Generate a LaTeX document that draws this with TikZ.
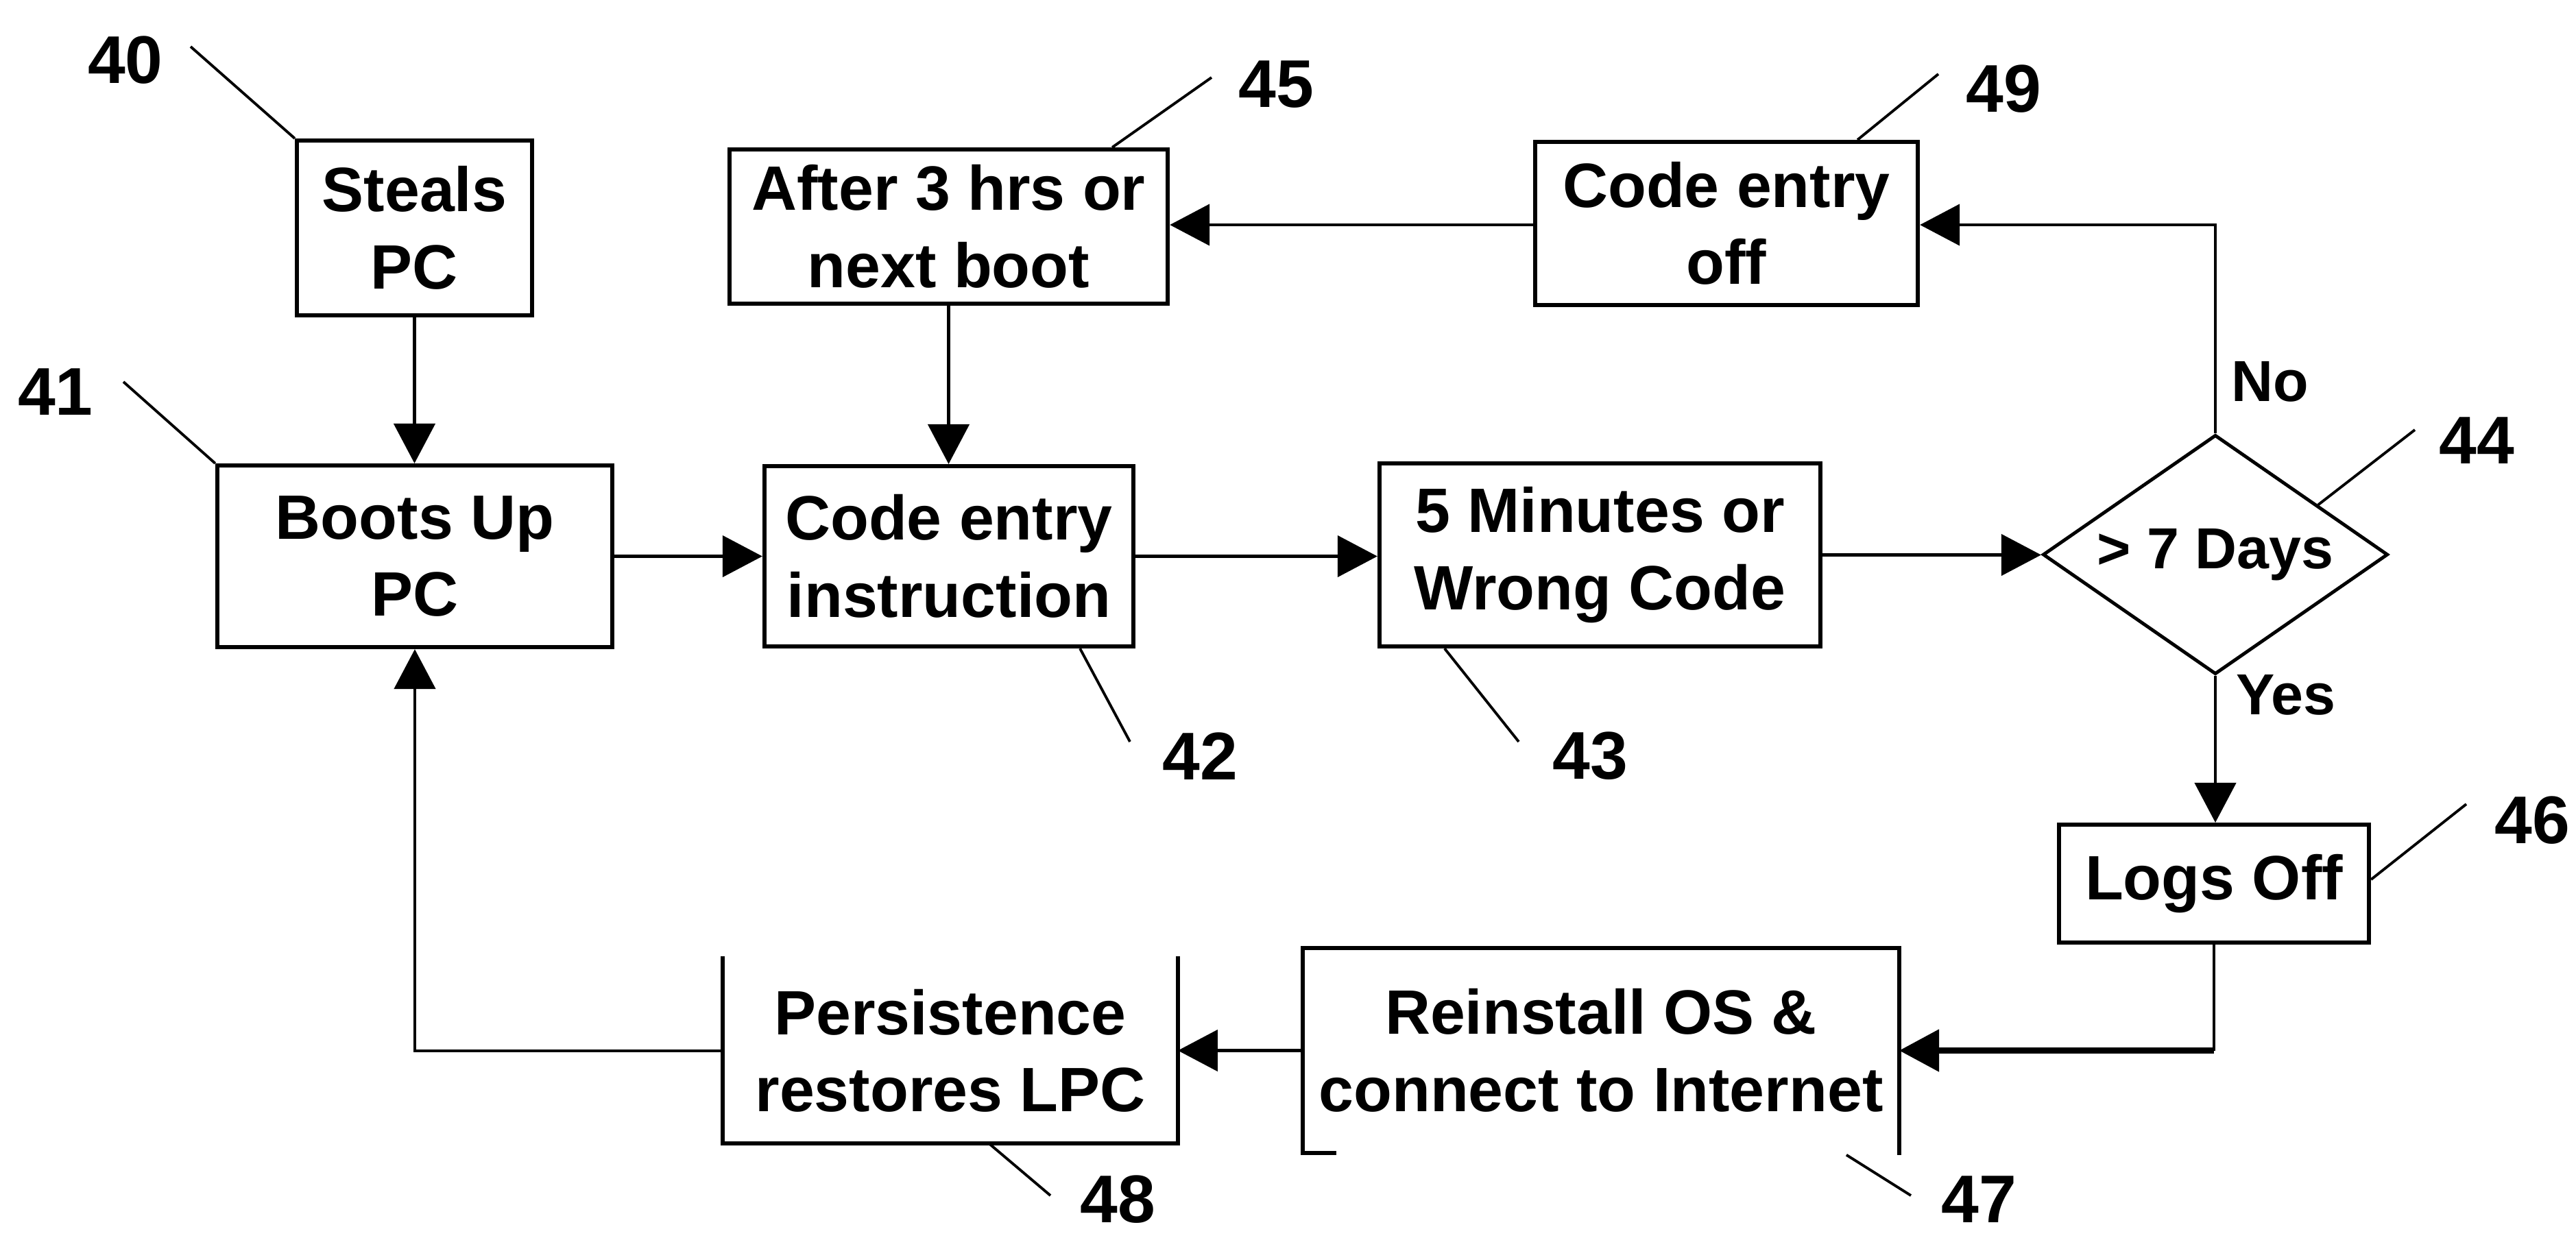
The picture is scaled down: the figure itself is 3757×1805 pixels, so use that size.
\documentclass[tikz,border=0pt]{standalone}
\usepackage{fontspec}
\setmainfont{Liberation Sans}
\usetikzlibrary{arrows.meta,shapes.geometric,calc}
\newcommand\bxfont{\fontsize{26}{32}\selectfont\bfseries}
\newcommand\rnfont{\fontsize{28}{32}\selectfont\bfseries}
\newcommand\brfont{\fontsize{24}{28}\selectfont\bfseries}
\begin{document}
\begin{tikzpicture}[x=0.01cm,y=-0.01cm,
  box/.style={draw,line width=1.7pt,inner sep=0pt,align=center,font=\bxfont},
  bare/.style={inner sep=0pt,align=center,font=\bxfont},
  edgeline/.style={line width=1.7pt,line cap=rect},
  flow/.style={line width=1.3pt,-{Triangle[length=0.58cm,width=0.6cm]}},
  plain/.style={line width=1.3pt},
  leader/.style={line width=1.1pt},
  refnum/.style={inner sep=0pt,font=\rnfont},
  branch/.style={inner sep=0pt,font=\brfont}]
\useasboundingbox (0,0) rectangle (3757,1805);
\fill[white] (0,0) rectangle (3757,1805);

% boxes
\node[box,minimum width=3.43cm,minimum height=2.55cm] (steals) at (604.5,332.5) {Steals\\PC};
\node[box,minimum width=6.39cm,minimum height=2.25cm] (after) at (1383.5,330.5) {After 3 hrs or\\next boot};
\node[box,minimum width=5.58cm,minimum height=2.38cm] (off) at (2518,326) {Code entry\\off};
\node[box,minimum width=5.76cm,minimum height=2.65cm] (boots) at (605,811.5) {Boots Up\\PC};
\node[box,minimum width=5.38cm,minimum height=2.63cm] (instr) at (1384,811.5) {Code entry\\instruction};
\node[box,minimum width=6.43cm,minimum height=2.67cm] (five) at (2333.5,809.5) {5 Minutes or\\Wrong Code};
\node[draw,diamond,aspect=1.44,line width=1.4pt,inner sep=0pt,minimum width=5.03cm,minimum height=3.49cm,font=\brfont] (days) at (3231,809) {> 7 Days};
\node[box,minimum width=4.52cm,minimum height=1.72cm] (logs) at (3229,1289) {Logs Off};
\node[bare,minimum width=8.68cm,minimum height=2.97cm] (reinstall) at (2335,1532.5) {Reinstall OS \&\\connect to Internet};
\node[bare,minimum width=6.62cm,minimum height=2.68cm] (persist) at (1386,1533) {Persistence\\restores LPC};

% partly drawn outlines
\draw[edgeline] (reinstall.south west) -- (reinstall.north west) -- (reinstall.north east) -- (reinstall.south east);
\draw[edgeline] (reinstall.south west) -- ++(46,0);
\draw[edgeline] (persist.north west) -- (persist.south west) -- (persist.south east) -- (persist.north east);

% connectors
\draw[flow] (steals.south) -- (steals.south |- boots.north);
\draw[flow] (after.south) -- (after.south |- instr.north);
\draw[flow] (boots.east) -- (boots.east -| instr.west);
\draw[flow] (instr.east) -- (instr.east -| five.west);
\draw[flow] (five.east) -- (five.east -| days.west);
\draw[flow] (days.north) |- ([yshift=-0.02cm]off.east);
\draw[flow] ([yshift=-0.02cm]off.west) -- ([yshift=-0.02cm]off.west -| after.east);
\draw[flow] (days.south) -- (days.south |- logs.north);
\draw[plain] (logs.south) -- (logs.south |- reinstall.east) coordinate (lgcorner);
\draw[flow,line width=2.4pt] (lgcorner) -- (reinstall.east);
\draw[flow] (reinstall.west) -- (reinstall.west -| persist.east);
\draw[flow] (persist.west) -| (boots.south);

% branch labels
\node[branch] (no) at (3311,557) {No};
\node[branch] (yes) at (3334,1014) {Yes};

% reference numerals
\node[refnum] (n40) at (183,88) {40};
\node[refnum] (n41) at (81,572) {41};
\node[refnum] (n45) at (1861,123) {45};
\node[refnum] (n49) at (2922,130) {49};
\node[refnum] (n44) at (3612,643) {44};
\node[refnum] (n46) at (3693,1197) {46};
\node[refnum] (n42) at (1750,1103) {42};
\node[refnum] (n43) at (2319,1103) {43};
\node[refnum] (n48) at (1630,1750) {48};
\node[refnum] (n47) at (2886,1750) {47};

% leader line free ends
\coordinate (t40) at (278,68);
\coordinate (t41) at (180,557);
\coordinate (t45) at (1767,113);
\coordinate (t49) at (2827,108);
\coordinate (t44) at (3522,627);
\coordinate (t46) at (3597,1173);
\coordinate (t42) at (1648,1082);
\coordinate (t43) at (2215,1082);
\coordinate (t48) at (1532,1744);
\coordinate (t47) at (2787,1744);

\draw[leader] (t40) -- (steals.north west);
\draw[leader] (t41) -- (boots.north west);
\draw[leader] (t45) -- ([xshift=5.61cm]after.north west);
\draw[leader] (t49) -- ([xshift=4.73cm]off.north west);
\draw[leader] (t44) -- ($(days.north)!0.59!(days.east)$);
\draw[leader] (t46) -- ([yshift=0.06cm]logs.east);
\draw[leader] ([xshift=4.63cm]instr.south west) -- (t42);
\draw[leader] ([xshift=0.98cm]five.south west) -- (t43);
\draw[leader] ([xshift=0.56cm]persist.south) -- (t48);
\draw[leader] ([xshift=-0.77cm,yshift=-0.03cm]reinstall.south east) -- (t47);
\end{tikzpicture}
\end{document}
